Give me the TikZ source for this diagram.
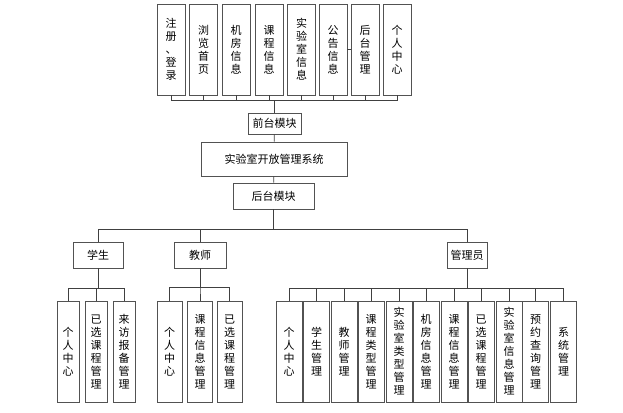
\documentclass[tikz,border=0pt]{standalone}
\usepackage{fontspec}
\setmainfont{Noto Sans CJK SC}
\usepackage{tikz}
\usetikzlibrary{arrows,shapes,calc}
\tikzstyle{box}=[draw=black!68,line width=0.95pt,fill=white,inner sep=0pt,font={\fontsize{11}{13}\selectfont}]
\tikzstyle{vbox}=[box,align=center,minimum width=26pt,minimum height=101pt]
\tikzstyle{tbox}=[vbox,minimum width=28pt,minimum height=91pt]
\tikzstyle{edge} = [draw,line width=0.8pt,black!75,-]

\begin{document}
\begin{tikzpicture}[x=1pt,y=-1pt]
                    \useasboundingbox (0,0) rectangle (623,412);
                    % front modules
                    \node[tbox] (f1) at (171,49.5) {注\\册\\、\\登\\录};
                    \node[tbox] (f2) at (203.5,49.5) {浏\\览\\首\\页};
                    \node[tbox] (f3) at (236,49.5) {机\\房\\信\\息};
                    \node[tbox] (f4) at (269,49.5) {课\\程\\信\\息};
                    \node[tbox] (f5) at (301.5,49.5) {实\\验\\室\\信\\息};
                    \node[tbox] (f6) at (333,49.5) {公\\告\\信\\息};
                    \node[tbox] (f7) at (365,49.5) {后\\台\\管\\理};
                    \node[tbox] (f8) at (397,49.5) {个\\人\\中\\心};

                    \node[box,minimum width=53pt,minimum height=21pt] (qt) at (274.5,123.5) {前台模块};
                    \node[box,minimum width=146pt,minimum height=34pt] (sys) at (274,159) {实验室开放管理系统};
                    \node[box,minimum width=81pt,minimum height=26pt] (ht) at (273.5,196) {后台模块};

                    % roles
                    \node[box,minimum width=50pt,minimum height=26pt] (xs) at (98,255) {学生};
                    \node[box,minimum width=52pt,minimum height=26pt] (js) at (200,255) {教师};
                    \node[box,minimum width=40pt,minimum height=26pt] (gly) at (467,255) {管理员};

                    \node[vbox,minimum width=22pt] (xs1) at (68,351.5) {个\\人\\中\\心};
                    \node[vbox,minimum width=22pt] (xs2) at (96,351.5) {已\\选\\课\\程\\管\\理};
                    \node[vbox,minimum width=22pt] (xs3) at (124,351.5) {来\\访\\报\\备\\管\\理};

                    \node[vbox,minimum width=25pt] (js1) at (169.5,351.5) {个\\人\\中\\心};
                    \node[vbox,minimum width=25pt] (js2) at (200,351.5) {课\\程\\信\\息\\管\\理};
                    \node[vbox,minimum width=25pt] (js3) at (229.5,351.5) {已\\选\\课\\程\\管\\理};

                    \node[vbox] (g1) at (289,351.5) {个\\人\\中\\心};
                    \node[vbox] (g2) at (316.5,351.5) {学\\生\\管\\理};
                    \node[vbox] (g3) at (344,351.5) {教\\师\\管\\理};
                    \node[vbox] (g4) at (371,351.5) {课\\程\\类\\型\\管\\理};
                    \node[vbox] (g5) at (399,351.5) {实\\验\\室\\类\\型\\管\\理};
                    \node[vbox] (g6) at (426,351.5) {机\\房\\信\\息\\管\\理};
                    \node[vbox] (g7) at (454,351.5) {课\\程\\信\\息\\管\\理};
                    \node[vbox] (g8) at (481,351.5) {已\\选\\课\\程\\管\\理};
                    \node[vbox] (g9) at (509,351.5) {实\\验\\室\\信\\息\\管\\理};
                    \node[vbox] (g10) at (535.5,351.5) {预\\约\\查\\询\\管\\理};
                    \node[vbox] (g11) at (563.5,351.5) {系\\统\\管\\理};

                    % top bus
                    \path[edge] (f1.south) -- ++(0,5) -| (qt.north);
                    \path[edge] (f2.south) -- ++(0,5) -| (qt.north);
                    \path[edge] (f3.south) -- ++(0,5) -| (qt.north);
                    \path[edge] (f4.south) -- ++(0,5) -| (qt.north);
                    \path[edge] (f5.south) -- ++(0,5) -| (qt.north);
                    \path[edge] (f6.south) -- ++(0,5) -| (qt.north);
                    \path[edge] (f7.south) -- ++(0,5) -| (qt.north);
                    \path[edge] (f8.south) -- ++(0,5) -| (qt.north);
                    \path[edge] (f6.east) -- (f7.west);

                    \path[edge] (qt) -- (sys);
                    \path[edge] (sys) -- (ht);

                    \path[edge] (ht.south) -- ++(0,20) -| (xs.north);
                    \path[edge] (ht.south) -- ++(0,20) -| (js.north);
                    \path[edge] (ht.south) -- ++(0,20) -| (gly.north);

                    \path[edge] (xs.south) -- ++(0,20) -| (xs1.north);
                    \path[edge] (xs.south) -- ++(0,20) -| (xs2.north);
                    \path[edge] (xs.south) -- ++(0,20) -| (xs3.north);

                    \path[edge] (js.south) -- ++(0,19) -| (js1.north);
                    \path[edge] (js.south) -- ++(0,19) -| (js2.north);
                    \path[edge] (js.south) -- ++(0,19) -| (js3.north);

                    \path[edge] (gly.south) -- ++(0,20) -| (g1.north);
                    \path[edge] (gly.south) -- ++(0,20) -| (g2.north);
                    \path[edge] (gly.south) -- ++(0,20) -| (g3.north);
                    \path[edge] (gly.south) -- ++(0,20) -| (g4.north);
                    \path[edge] (gly.south) -- ++(0,20) -| (g5.north);
                    \path[edge] (gly.south) -- ++(0,20) -| (g6.north);
                    \path[edge] (gly.south) -- ++(0,20) -| (g7.north);
                    \path[edge] (gly.south) -- ++(0,20) -| (g8.north);
                    \path[edge] (gly.south) -- ++(0,20) -| (g9.north);
                    \path[edge] (gly.south) -- ++(0,20) -| (g10.north);
                    \path[edge] (gly.south) -- ++(0,20) -| (g11.north);
                \end{tikzpicture}
\end{document}
